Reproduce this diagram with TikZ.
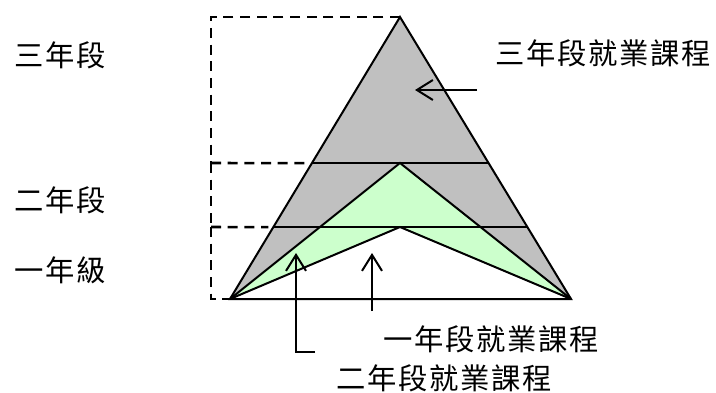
\documentclass[tikz,border=0pt]{standalone}
\usepackage{fontspec}
\usepackage{xcolor}
\usepackage{tikz}
\usetikzlibrary{arrows.meta,calc}
\newfontfamily\cjk{Noto Sans CJK TC}[LetterSpace=6]
\definecolor{trigray}{RGB}{192,192,192}
\definecolor{trigreen}{RGB}{204,255,204}
\tikzset{
  label text/.style={font=\cjk\fontsize{22}{26}\selectfont, inner sep=0pt},
  edge line/.style={line width=1.5pt},
  guide line/.style={line width=1.9pt, dash pattern=on 7.5pt off 5pt},
  pointer/.style={line width=1.5pt, -{Straight Barb[length=12pt,width=15pt]}}
}

\begin{document}
\begin{tikzpicture}[x=0.75pt,y=-0.75pt]
	\useasboundingbox (0,0) rectangle (716,392);
	\coordinate (apex) at (400,17);
	\coordinate (baseL) at (230,299);
	\coordinate (baseR) at (571,299);
	\coordinate (inner apex) at (400,163);
	\coordinate (notch) at (400,227);
	\coordinate (upL) at ($(apex)!0.518!(baseL)$);
	\coordinate (upR) at ($(apex)!0.518!(baseR)$);
	\coordinate (lowL) at ($(apex)!0.745!(baseL)$);
	\coordinate (lowR) at ($(apex)!0.745!(baseR)$);
	% filled parts
	\fill[trigray] (apex) -- (baseL) -- (baseR) -- cycle;
	\fill[trigreen] (baseL) -- (inner apex) -- (baseR) -- (notch) -- cycle;
	\fill[white] (baseL) -- (notch) -- (baseR) -- cycle;
	% outlines
	\draw[edge line] (baseL) -- (apex) -- (baseR) -- cycle;
	\draw[edge line] (baseL) -- (inner apex) -- (baseR);
	\draw[edge line] (baseL) -- (notch) -- (baseR);
	\draw[edge line] (upL) -- (upR);
	\draw[edge line] (lowL) -- (lowR);
	% dashed guides
	\coordinate (g3) at (211,17);
	\coordinate (g2) at (211,163);
	\coordinate (g1) at (211,227);
	\coordinate (g0) at (211,299);
	\draw[guide line] (apex) -- (g3) -- (g2);
	\draw[guide line] (g2) -- ($(upL)+(-5,0)$);
	\draw[guide line] (g2) -- (g1);
	\draw[guide line] (g1) -- ($(lowL)+(-5,0)$);
	\draw[guide line] (g1) -- (g0) -- (baseL);
	% labels
	\node[label text] (year3) at (60,55) {三年段};
	\node[label text] (year2) at (60,200) {二年段};
	\node[label text] (year1) at (60,270) {一年級};
	\node[label text] (course3) at (603,53) {三年段就業課程};
	\node[label text] (course1) at (491,339) {一年段就業課程};
	\node[label text] (course2) at (444,378) {二年段就業課程};
	% pointers
	\coordinate (p3 tail) at (477,90);
	\coordinate (p3 tip) at (415,90);
	\coordinate (p1 tail) at (372,311);
	\coordinate (p1 tip) at (372,253);
	\coordinate (p2 tail) at (315,352);
	\coordinate (p2 bend) at (296,352);
	\coordinate (p2 tip) at (296,253);
	\draw[pointer] (p3 tail) -- (p3 tip);
	\draw[pointer] (p1 tail) -- (p1 tip);
	\draw[pointer] (p2 tail) -- (p2 bend) -- (p2 tip);
\end{tikzpicture}
\end{document}
